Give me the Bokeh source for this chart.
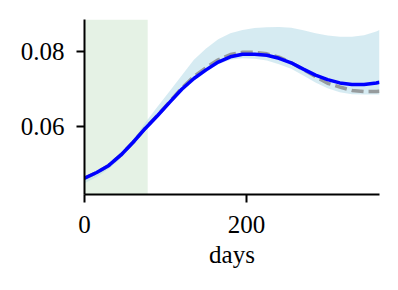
from bokeh.plotting import figure
from bokeh.models import Range1d, FixedTicker, BoxAnnotation
from bokeh.embed import file_html
from bokeh.resources import INLINE

days = [0, 15, 30, 45, 60, 75, 90, 105, 120, 135, 150, 165, 180, 195, 210,
        225, 240, 255, 270, 285, 300, 315, 330, 345, 360, 364]
mean = [0.0461, 0.0476, 0.0495, 0.0523, 0.0557, 0.0594, 0.0628, 0.0664,
        0.0699, 0.0728, 0.0751, 0.0772, 0.0786, 0.0793, 0.0793, 0.0790,
        0.0782, 0.0770, 0.0753, 0.0737, 0.0725, 0.0716, 0.0712, 0.0712,
        0.0716, 0.0718]
reference = [0.0461, 0.0476, 0.0495, 0.0523, 0.0557, 0.0595, 0.0629, 0.0665,
             0.0702, 0.0733, 0.0757, 0.0778, 0.0792, 0.0798, 0.0798, 0.0794,
             0.0785, 0.0770, 0.0752, 0.0733, 0.0715, 0.0705, 0.0696, 0.0693,
             0.0693, 0.0694]
upper = [0.0465, 0.0480, 0.0500, 0.0528, 0.0564, 0.0609, 0.0652, 0.0694,
         0.0736, 0.0778, 0.0808, 0.0833, 0.0849, 0.0858, 0.0863, 0.0865,
         0.0866, 0.0864, 0.0857, 0.0849, 0.0843, 0.0840, 0.0840, 0.0844,
         0.0854, 0.0858]
lower = [0.0447, 0.0464, 0.0486, 0.0515, 0.0550, 0.0588, 0.0622, 0.0657,
         0.0692, 0.0721, 0.0745, 0.0766, 0.0778, 0.0782, 0.0781, 0.0776,
         0.0766, 0.0754, 0.0736, 0.0717, 0.0702, 0.0691, 0.0686, 0.0685,
         0.0685, 0.0685]
shade_start, shade_end = 0, 78
x_ticks = [0, 200]
x_labels = ["0", "200"]
y_ticks = [0.06, 0.08]
y_labels = ["0.06", "0.08"]
x_label = "days"

FONT = "Liberation Serif"
FS = "25px"

p = figure(width=389, height=278, output_backend="svg", toolbar_location=None,
           x_range=Range1d(0, 364), y_range=Range1d(0.0417, 0.0886),
           min_border_left=84, min_border_top=19, min_border_right=10,
           min_border_bottom=84)
p.frame_width = 295
p.frame_height = 175
p.outline_line_color = None
p.grid.visible = False
p.background_fill_color = "white"

p.add_layout(BoxAnnotation(left=shade_start, right=shade_end, fill_color="green",
                           fill_alpha=0.1, line_color=None, level="underlay"))
p.varea(x=days, y1=lower, y2=upper, fill_color="lightblue", fill_alpha=0.5)
p.line(days, reference, line_color="gray", line_alpha=0.75, line_width=3.5,
       line_dash="12 5")
p.line(days, mean, line_color="blue", line_width=3.5)

for ax in (p.xaxis[0], p.yaxis[0]):
    ax.axis_line_width = 2
    ax.axis_line_color = "black"
    ax.major_tick_line_width = 2
    ax.major_tick_in = 0
    ax.major_tick_out = 8
    ax.minor_tick_line_color = None
    ax.major_label_text_font = FONT
    ax.major_label_text_font_size = FS
    ax.major_label_text_color = "black"

p.xaxis.major_label_standoff = 13
p.yaxis.major_label_standoff = 12
p.xaxis.ticker = FixedTicker(ticks=x_ticks)
p.xaxis.major_label_overrides = {t: l for t, l in zip(x_ticks, x_labels)}
p.yaxis.ticker = FixedTicker(ticks=y_ticks)
p.yaxis.major_label_overrides = {t: l for t, l in zip(y_ticks, y_labels)}
p.xaxis.axis_label = x_label
p.xaxis.axis_label_text_font = FONT
p.xaxis.axis_label_text_font_size = FS
p.xaxis.axis_label_text_font_style = "normal"
p.xaxis.axis_label_text_color = "black"
p.xaxis.axis_label_standoff = 5

open("out.html", "w").write(file_html(p, INLINE))
